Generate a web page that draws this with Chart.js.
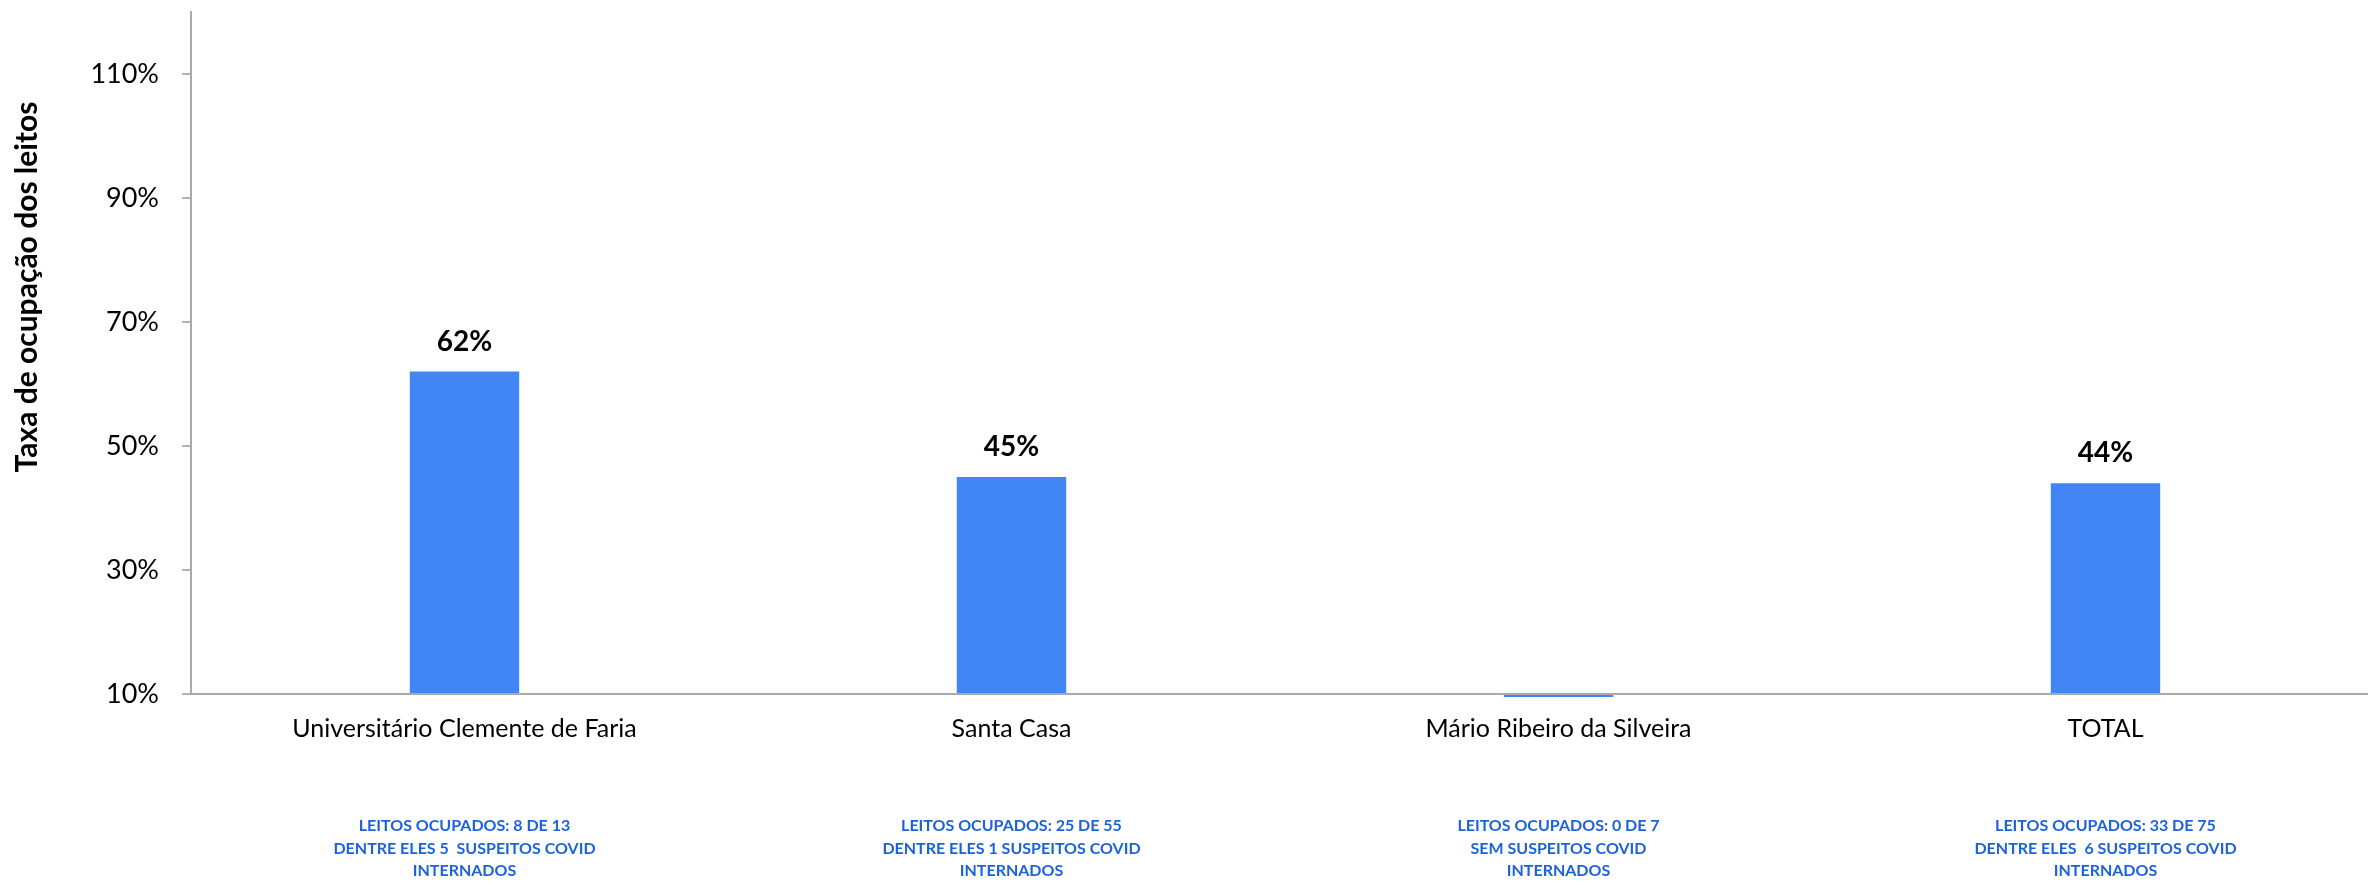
<!DOCTYPE html>
<html>
<head>
<meta charset="utf-8">
<script src="https://cdn.jsdelivr.net/npm/chart.js@4.4.1/dist/chart.umd.min.js"></script>
<style>
  html, body { margin: 0; padding: 0; background: #fff; overflow: hidden; }
  #wrap { width: 2390px; height: 890px; }
</style>
</head>
<body>
<div id="wrap"><canvas id="chart"></canvas></div>
<script>
const categories = ['Universitário Clemente de Faria', 'Santa Casa', 'Mário Ribeiro da Silveira', 'TOTAL'];
const occupancy = [62, 45, 0, 44];
const notes = [
  ['LEITOS OCUPADOS: 8 DE 13', 'DENTRE ELES 5  SUSPEITOS COVID', 'INTERNADOS'],
  ['LEITOS OCUPADOS: 25 DE 55', 'DENTRE ELES 1 SUSPEITOS COVID', 'INTERNADOS'],
  ['LEITOS OCUPADOS: 0 DE 7', 'SEM SUSPEITOS COVID', 'INTERNADOS'],
  ['LEITOS OCUPADOS: 33 DE 75', 'DENTRE ELES  6 SUSPEITOS COVID', 'INTERNADOS']
];
const yTicks = [10, 30, 50, 70, 90, 110];
const yTitle = 'Taxa de ocupação dos leitos';
const yMin = 10, yMax = 120;

// value labels, notes under the categories and the y title
const overlay = {
  id: 'overlay',
  afterDatasetsDraw(chart) {
    const ctx = chart.ctx;
    const x = chart.scales.x;
    ctx.save();
    ctx.textAlign = 'center';
    ctx.textBaseline = 'middle';

    ctx.fillStyle = '#000';
    ctx.font = 'bold 28px Lato';
    chart.getDatasetMeta(0).data.forEach((bar, i) => {
      if (!occupancy[i]) return;
      ctx.fillText(occupancy[i] + '%', bar.x, bar.y - 30);
    });

    ctx.fillStyle = '#1c62df';
    ctx.font = 'bold 16px Lato';
    notes.forEach((lines, i) => {
      const cx = x.getPixelForValue(i);
      lines.forEach((t, j) => ctx.fillText(t, cx, 826 + j * 22.5));
    });

    ctx.fillStyle = '#000';
    ctx.font = 'bold 30px Lato';
    ctx.translate(27, 287);
    ctx.rotate(-Math.PI / 2);
    ctx.fillText(yTitle, 0, 0);
    ctx.restore();
  }
};

new Chart(document.getElementById('chart'), {
  type: 'bar',
  data: {
    labels: categories,
    datasets: [{
      data: occupancy,
      base: yMin,
      backgroundColor: '#4285F4',
      barPercentage: 0.2,
      categoryPercentage: 1,
      clip: { left: 0, top: 0, right: 0, bottom: 3 }
    }]
  },
  options: {
    responsive: true,
    maintainAspectRatio: false,
    animation: false,
    layout: { padding: { left: 0, right: 11, top: 12, bottom: 0 } },
    plugins: { legend: { display: false }, tooltip: { enabled: false } },
    scales: {
      x: {
        grid: { display: false, drawTicks: false },
        border: { color: '#aaa', width: 2 },
        ticks: { color: '#000', font: { family: 'Lato', size: 25 }, padding: 20, maxRotation: 0 },
        afterFit(s) { s.height = 196; }
      },
      y: {
        min: yMin,
        max: yMax,
        grid: { drawOnChartArea: false, tickLength: 9, color: '#b3b3b3', lineWidth: 2 },
        border: { color: '#aaa', width: 2 },
        ticks: {
          color: '#000',
          padding: 23,
          font: { family: 'Lato', size: 27 },
          callback: v => v + '%'
        },
        afterBuildTicks(s) { s.ticks = yTicks.map(v => ({ value: v })); },
        afterFit(s) { s.width = 191; s.paddingTop = 0; s.paddingBottom = 0; }
      }
    }
  },
  plugins: [overlay]
});
</script>
</body>
</html>
